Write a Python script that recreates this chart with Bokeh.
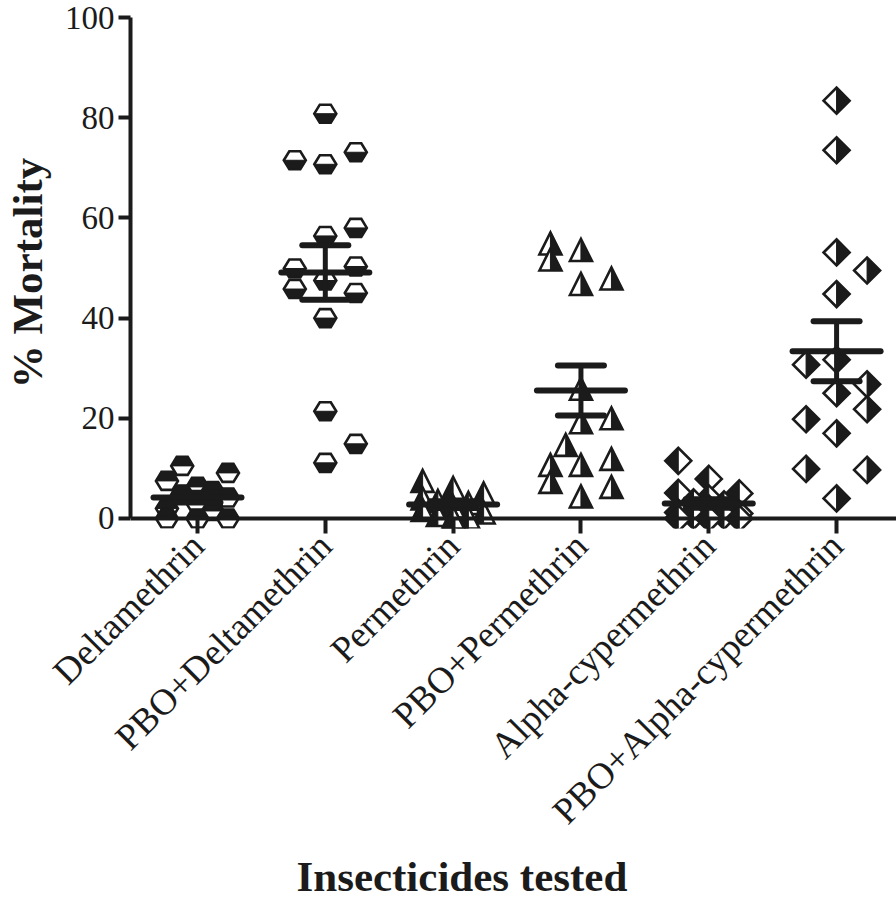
import math
import numpy as np
from bokeh.plotting import figure
from bokeh.models import FixedTicker, Span, Title, ColumnDataSource, Range1d
from bokeh.embed import file_html
from bokeh.resources import INLINE

# ---------------- data ----------------
categories = ["Deltamethrin", "PBO+Deltamethrin", "Permethrin",
              "PBO+Permethrin", "Alpha-cypermethrin", "PBO+Alpha-cypermethrin"]

deltamethrin = [10.5, 9.1, 7.5, 6.3, 5.5, 4.8, 4.2, 3.0, 2.0, 1.5, 0, 0, 0]
deltamethrin_slot = [-0.5, 1, -1, 0, 0.5, -0.5, 1, 0, -1, 0.5, -1, 0, 1]

pbo_deltamethrin = [80.8, 73.1, 71.5, 70.7, 58.0, 56.4, 50.3, 49.9, 47.5, 45.8, 45.0, 40.0, 21.4, 14.9, 11.1]
pbo_deltamethrin_slot = [0, 1, -1, 0, 1, 0, 1, -1, 0, -1, 1, 0, 0, 1, 0]

permethrin = [7.3, 5.9, 4.8, 3.8, 3.3, 2.9, 2.2, 1.5, 1.0, 0.5, 0, 0]
permethrin_slot = [-1, 0, 1, -1, -0.5, 0.5, 0, -1, 1, -0.5, 0.5, 0]

pbo_permethrin = [54.7, 53.4, 51.5, 47.7, 46.6, 25.7, 19.8, 19.0, 14.5, 11.7, 10.5, 10.5, 7.1, 6.1, 4.2]
pbo_permethrin_slot = [-1, 0, -1, 1, 0, 0, 1, 0, -0.5, 1, -1, 0, -1, 1, 0]

alpha_cypermethrin = [11.5, 7.9, 5.1, 5.0, 4.0, 3.2, 2.8, 2.0, 1.2, 1.0, 0.5, 0.5, 0, 0, 0]
alpha_cypermethrin_slot = [-1, 0, -1, 1, 0, -0.5, 0.5, 0, -1, 1, -0.5, 0.5, -1, 0, 1]

pbo_alpha_cypermethrin = [83.4, 73.5, 53.1, 49.5, 44.8, 31.7, 30.7, 26.8, 25.0, 21.8, 19.8, 17.0, 9.9, 9.7, 4.0]
pbo_alpha_cypermethrin_slot = [0, 0, 0, 1, 0, 0, -1, 1, 0, 1, -1, 0, -1, 1, 0]

y_ticks = [0, 20, 40, 60, 80, 100]

groups = [
    (deltamethrin, deltamethrin_slot, "hex", "top"),
    (pbo_deltamethrin, pbo_deltamethrin_slot, "hex", "bottom"),
    (permethrin, permethrin_slot, "tri", "left"),
    (pbo_permethrin, pbo_permethrin_slot, "tri", "right"),
    (alpha_cypermethrin, alpha_cypermethrin_slot, "diamond", "left"),
    (pbo_alpha_cypermethrin, pbo_alpha_cypermethrin_slot, "diamond", "right"),
]

# ---------------- layout / style ----------------
INK = "#1b1b1b"
FONT = "Liberation Serif"
FRAME_W, FRAME_H = 770, 511
X0, X1 = -0.524, 5.50
Y0, Y1 = -2.0, 100.0
KX = FRAME_W / (X1 - X0)   # px per x unit
KY = FRAME_H / (Y1 - Y0)   # px per y unit
SLOT_PX = 30.5

SHAPES = {
    "hex": {
        "full": [(-11, 0), (-5.5, 9), (5.5, 9), (11, 0), (5.5, -9), (-5.5, -9)],
        "top": [(-11, 0), (-5.5, 9), (5.5, 9), (11, 0)],
        "bottom": [(-11, 0), (11, 0), (5.5, -9), (-5.5, -9)],
    },
    "tri": {
        "full": [(-11, -10), (0, 12), (11, -10)],
        "left": [(-11, -10), (0, 12), (0, -10)],
        "right": [(0, -10), (0, 12), (11, -10)],
    },
    "diamond": {
        "full": [(-13, 0), (0, 13), (13, 0), (0, -13)],
        "left": [(-13, 0), (0, 13), (0, -13)],
        "right": [(0, 13), (13, 0), (0, -13)],
    },
}

p = figure(frame_width=FRAME_W, frame_height=FRAME_H,
           x_range=Range1d(X0, X1), y_range=Range1d(Y0, Y1),
           output_backend="svg", toolbar_location=None,
           min_border_left=126, min_border_right=0, min_border_top=17,
           min_border_bottom=0, background_fill_color="white",
           border_fill_color="white", outline_line_color=None)
p.grid.visible = False

# markers
xs, ys, fills, lws = [], [], [], []
for gi, (vals, slots, shape, half) in enumerate(groups):
    geo = SHAPES[shape]
    for v, s in zip(vals, slots):
        cx = gi + s * SLOT_PX / KX
        for key, fc, lw in (("full", "white", 2.6), (half, INK, 1.0)):
            xs.append([cx + dx / KX for dx, dy in geo[key]])
            ys.append([v + dy / KY for dx, dy in geo[key]])
            fills.append(fc)
            lws.append(lw)
src = ColumnDataSource(dict(xs=xs, ys=ys, fill=fills, lw=lws))
p.patches("xs", "ys", source=src, fill_color="fill", line_color=INK,
          line_width="lw", line_join="miter")

# mean +/- SEM
gx, means, lo, hi = [], [], [], []
for gi, (vals, _, _, _) in enumerate(groups):
    a = np.array(vals, dtype=float)
    m = a.mean()
    sem = a.std(ddof=1) / math.sqrt(len(a))
    gx.append(gi); means.append(m); lo.append(m - sem); hi.append(m + sem)
gx = np.array(gx, dtype=float)
MEAN_HALF = 44 / KX
CAP_HALF = 23 / KX
p.segment(gx, lo, gx, hi, line_color=INK, line_width=5)
p.segment(gx - CAP_HALF, hi, gx + CAP_HALF, hi, line_color=INK, line_width=6, line_cap="round")
p.segment(gx - CAP_HALF, lo, gx + CAP_HALF, lo, line_color=INK, line_width=6, line_cap="round")
p.segment(gx - MEAN_HALF, means, gx + MEAN_HALF, means, line_color=INK, line_width=6, line_cap="round")

# x axis baseline at 0
p.add_layout(Span(location=0, dimension="width", line_color=INK, line_width=4, level="overlay"))

# axes
xa = p.xaxis[0]
xa.ticker = FixedTicker(ticks=list(range(len(categories))))
xa.major_label_overrides = {i: c for i, c in enumerate(categories)}
xa.major_label_orientation = math.pi / 4
xa.axis_line_color = None
xa.major_tick_in = 10
xa.major_tick_out = 5
xa.major_tick_line_width = 4
xa.major_tick_line_color = INK
xa.minor_tick_line_color = None
xa.major_label_text_font = FONT
xa.major_label_text_font_size = "37px"
xa.major_label_text_color = INK
xa.major_label_standoff = 6

ya = p.yaxis[0]
ya.ticker = FixedTicker(ticks=y_ticks)
ya.bounds = (0, 100)
ya.axis_line_width = 4
ya.axis_line_color = INK
ya.major_tick_in = 0
ya.major_tick_out = 12
ya.major_tick_line_width = 4
ya.major_tick_line_color = INK
ya.minor_tick_line_color = None
ya.major_label_text_font = FONT
ya.major_label_text_font_size = "33px"
ya.major_label_text_color = INK
ya.major_label_standoff = 4
ya.axis_label = "% Mortality"
ya.axis_label_text_font = FONT
ya.axis_label_text_font_size = "43px"
ya.axis_label_text_font_style = "bold"
ya.axis_label_text_color = INK
ya.axis_label_standoff = 11

p.add_layout(Title(text="Insecticides tested", align="left", offset=166,
                   text_font=FONT, text_font_size="43px", text_font_style="bold",
                   text_color=INK, standoff=2), "below")

open("out.html", "w").write(file_html(p, INLINE))
